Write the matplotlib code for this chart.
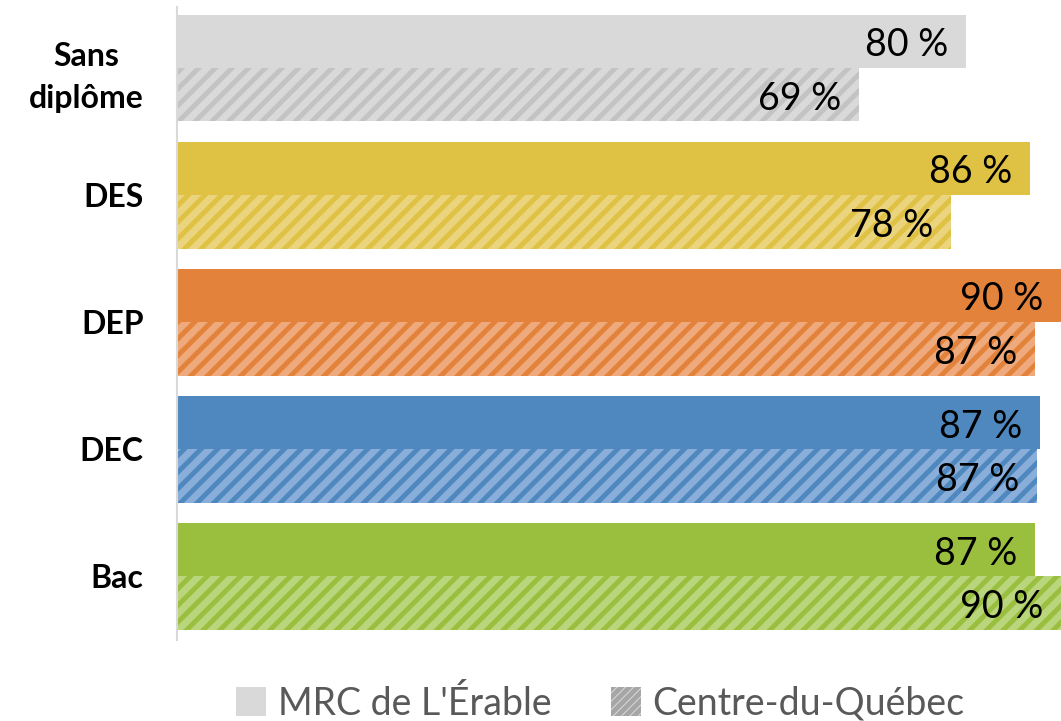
import matplotlib.pyplot as plt
import numpy as np
from matplotlib.patches import Patch

plt.rcParams['font.family'] = ['Lato', 'DejaVu Sans']
plt.rcParams['hatch.linewidth'] = 3.5

categories = ['Sans\ndiplôme', 'DES', 'DEP', 'DEC', 'Bac']
mrc_values = [79.7, 86.2, 90.3, 87.2, 86.7]
cdq_values = [68.9, 78.2, 86.7, 86.9, 90.3]
series_names = ["MRC de L'Érable", 'Centre-du-Québec']

base_colors = ['#D9D9D9', '#DFC244', '#E3823A', '#4F88BF', '#9ABF3F']
light_colors = ['#D9D9D9', '#EBD47E', '#EEAA7C', '#89AEDA', '#BAD67D']
stripe_colors = ['#C3C3C3', '#DFC244', '#E3823A', '#4F88BF', '#9ABF3F']

XMAX = 89.3

fig = plt.figure(figsize=(10.61, 7.21), dpi=100)
ax = fig.add_axes([0.1668, 0.1123, 0.8332, 0.8779])

y = np.arange(len(categories))
h = 0.42
ax.barh(y - h / 2, mrc_values, height=h, color=base_colors, linewidth=0)
ax.barh(y + h / 2, cdq_values, height=h, color=light_colors,
        edgecolor=stripe_colors, hatch='//', linewidth=0)

for i in range(len(categories)):
    for off, v in ((-h / 2, mrc_values[i]), (h / 2, cdq_values[i])):
        ax.text(min(v, XMAX) - 1.8, y[i] + off + 0.03, f'{round(v)} %',
                ha='right', va='center', fontsize=27, color='black')

ax.set_xlim(0, XMAX)
ax.set_ylim(4.5, -0.48)
ax.set_xticks([])
ax.set_yticks(y)
ax.set_yticklabels(categories, fontsize=23, fontweight='bold',
                   multialignment='center', linespacing=1.55)
ax.tick_params(axis='y', length=0, pad=24)
for s in ['top', 'right', 'bottom']:
    ax.spines[s].set_visible(False)
ax.spines['left'].set_color('#D9D9D9')
ax.spines['left'].set_linewidth(1.5)

handles = [Patch(facecolor='#D9D9D9', linewidth=0),
           Patch(facecolor='#D9D9D9', edgecolor='#A6A6A6', hatch='////',
                 linewidth=0)]
fig.legend(handles, series_names, loc='lower center', ncol=2, frameon=False,
           fontsize=27, labelcolor='#595959', bbox_to_anchor=(0.566, -0.048),
           handlelength=0.8, handleheight=0.8, handletextpad=0.3,
           columnspacing=1.6)

fig.savefig('out.png', dpi=100)
